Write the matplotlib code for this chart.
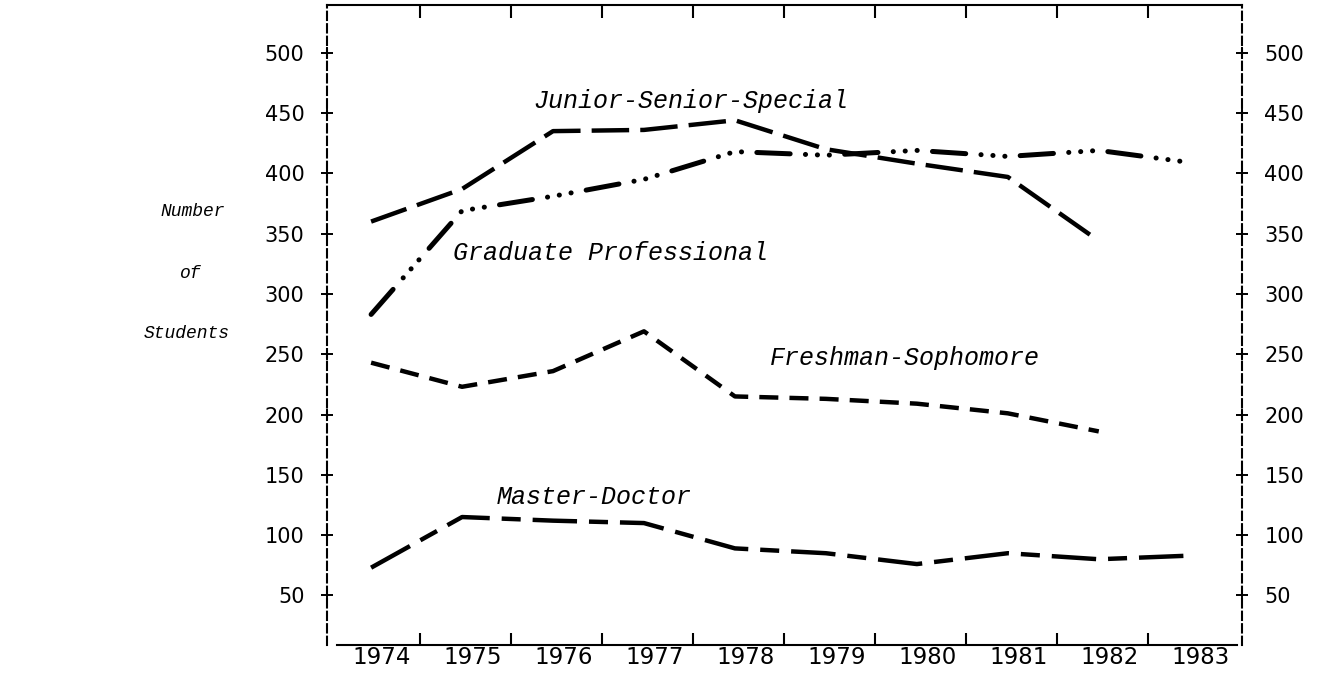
import numpy as np
import matplotlib
matplotlib.use("Agg")
import matplotlib.pyplot as plt
from matplotlib.transforms import blended_transform_factory

# Enrollment (number of students per year)
years = [1974, 1975, 1976, 1977, 1978, 1979, 1980, 1981, 1982, 1983]
junior_senior = [360, 387, 435, 436, 444, 420, 408, 397, 344]
graduate_prof = [283, 369, 381, 395, 418, 415, 419, 414, 419, 409]
freshman_soph = [243, 223, 236, 269, 215, 213, 209, 201, 186]
master_doctor = [73, 115, 112, 110, 89, 85, 76, 85, 80, 83]

y_ticks = [50, 100, 150, 200, 250, 300, 350, 400, 450, 500]
year_labels = [str(y) for y in years]

plt.rcParams['lines.scale_dashes'] = False

fig = plt.figure(figsize=(13.29, 6.73), dpi=100)
ax = fig.add_axes([0.2457, 0.0409, 0.6892, 0.9517])

LW = 3.2
ax.plot(years[:9], junior_senior, color='black', lw=LW, ls=(0, (27, 8)))
ax.plot(years, graduate_prof, color='black', lw=3.6,
        ls=(0, (24, 11, 0.1, 8.5, 0.1, 8.5, 0.1, 11)), dash_capstyle='round')
ax.plot(years[:9], freshman_soph, color='black', lw=LW, ls=(0, (13.7, 8)))
ax.plot(years, master_doctor, color='black', lw=LW, ls=(0, (32, 8.6, 13.7, 8.6)))

ax.set_xlim(1973.51, 1983.58)
ax.set_ylim(8.5, 539.6)

# series labels
lab_font = dict(family='Liberation Mono', style='italic', fontsize=18, color='black')
ax.text(1977.52, 460, 'Junior-Senior-Special', ha='center', va='center', **lab_font)
ax.text(1976.63, 334, 'Graduate Professional', ha='center', va='center', **lab_font)
ax.text(1979.87, 246.6, 'Freshman-Sophomore', ha='center', va='center', **lab_font)
ax.text(1976.45, 131.8, 'Master-Doctor', ha='center', va='center', **lab_font)

# y axis label, stacked on three lines
ylab_font = dict(family='Liberation Mono', style='italic', fontsize=13, color='black')
fig.text(193 / 1329, 1 - 212 / 673, 'Number', ha='center', va='center', **ylab_font)
fig.text(190 / 1329, 1 - 273 / 673, 'of', ha='center', va='center', **ylab_font)
fig.text(187 / 1329, 1 - 333 / 673, 'Students', ha='center', va='center', **ylab_font)

# spines: dashed sides, solid top/bottom
for side in ['left', 'right']:
    ax.spines[side].set_linestyle((0, (6, 3)))
    ax.spines[side].set_linewidth(1.5)
ax.spines['top'].set_linewidth(1.5)
ax.spines['bottom'].set_linewidth(1.5)
ax.spines['bottom'].set_bounds(1973.62, 1983.52)

# y ticks drawn as "+" on both sides
ax.set_yticks(y_ticks)
ax.set_yticklabels([str(v) for v in y_ticks])
ax.tick_params(axis='y', which='both', left=True, right=True, labelleft=True, labelright=True,
               direction='inout', length=8.6, width=1.4, pad=11.5, labelsize=15)
trans = blended_transform_factory(ax.transAxes, ax.transData)
for xa in [0, 1]:
    ax.plot([xa] * len(y_ticks), y_ticks, ls='none', marker='|', ms=8.6, mew=1.4,
            color='black', transform=trans, clip_on=False)

# x: labels at the years, tick marks between years (top and bottom)
ax.set_xticks([y + 0.12 for y in years])
ax.set_xticklabels(year_labels)
ax.set_xticks([y + 0.54 for y in years[:-1]], minor=True)
ax.tick_params(axis='x', which='major', length=0, pad=0.5, labelsize=16.5)
ax.tick_params(axis='x', which='minor', bottom=True, top=True, direction='in',
               length=9, width=1.5)

fig.savefig('out.png', dpi=100)
